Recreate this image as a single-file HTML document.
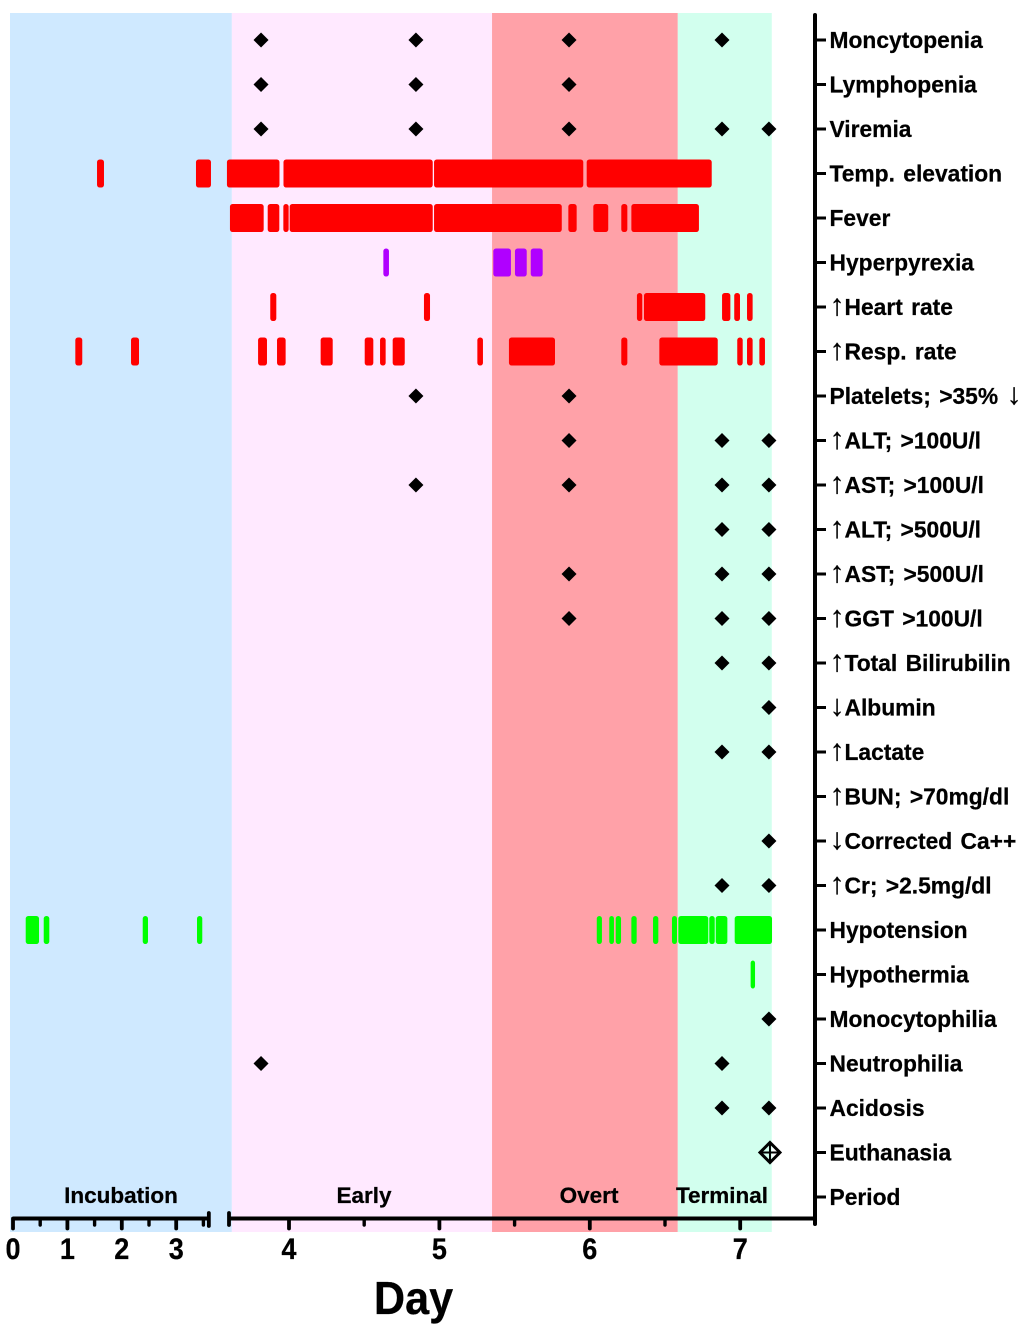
<!DOCTYPE html>
<html lang="en">
<head>
<meta charset="utf-8">
<title>Clinical signs timeline by day</title>
<style>
html,body{margin:0;padding:0;background:#fff;}
svg{display:block;}
text{font-family:"Liberation Sans",sans-serif;font-weight:bold;fill:#000;stroke:#000;stroke-width:0.25px;}
tspan.arrow{font-weight:normal;font-size:30px;}
</style>
</head>
<body>
<svg id="chart" xmlns="http://www.w3.org/2000/svg" width="1024" height="1337" viewBox="0 0 1024 1337"></svg>
<script>
// ---- Categories ----
const rowLabels = ["Moncytopenia","Lymphopenia","Viremia","Temp. elevation","Fever","Hyperpyrexia","↑Heart rate","↑Resp. rate","Platelets; >35% ↓","↑ALT; >100U/l","↑AST; >100U/l","↑ALT; >500U/l","↑AST; >500U/l","↑GGT >100U/l","↑Total Bilirubilin","↓Albumin","↑Lactate","↑BUN; >70mg/dl","↓Corrected Ca++","↑Cr; >2.5mg/dl","Hypotension","Hypothermia","Monocytophilia","Neutrophilia","Acidosis","Euthanasia","Period"];
const periodNames = ["Incubation","Early","Overt","Terminal"];
const periodEdges = [-0.055,3.62,5.35,6.585,7.21];
const periodColors = ["#cfe9ff","#ffe9ff","#ffa1a8","#d2ffee"];
const periodLabelDays = [1.985,4.499,5.995,6.879];
const majorTicks = [0,1,2,3,4,5,6,7];
const minorTicks = [0.5,1.5,2.5,3.5,4.5,5.5,6.5];

// ---- Continuous monitoring episodes, [start day, end day] ----
const tempElevation = [[1.585,1.632],[3.404,3.599],[3.602,3.922],[3.978,4.941],[4.979,5.942],[5.994,6.796]];
const fever = [[3.622,3.817],[3.873,3.921],[3.977,3.983],[4.019,4.941],[4.979,5.799],[5.872,5.898],[6.038,6.108],[6.224,6.235],[6.291,6.711]];
const hyperpyrexia = [[4.642,4.650],[5.373,5.461],[5.517,5.566],[5.622,5.672]];
const heartRate = [[3.890,3.901],[4.912,4.923],[6.328,6.334],[6.375,6.753],[6.894,6.920],[6.975,6.984],[7.060,7.068]];
const respRate = [[1.186,1.233],[2.210,2.276],[3.809,3.839],[3.935,3.963],[4.225,4.276],[4.518,4.546],[4.620,4.628],[4.704,4.755],[5.267,5.275],[5.477,5.754],[6.224,6.235],[6.477,6.836],[6.995,7.002],[7.060,7.068],[7.142,7.150]];
const hypotension = [[0.274,0.438],[0.605,0.627],[2.425,2.441],[3.423,3.439],[6.061,6.066],[6.144,6.146],[6.187,6.193],[6.291,6.297],[6.435,6.441],[6.561,6.565],[6.603,6.773],[6.809,6.816],[6.852,6.900],[6.978,7.197]];
const hypothermia = [[7.084,7.084]];

// ---- Discrete sample findings, days ----
const moncytopenia = [3.814,4.844,5.862,6.879];
const lymphopenia = [3.814,4.844,5.862];
const viremia = [3.814,4.844,5.862,6.879,7.191];
const platelets = [4.844,5.862];
const alt100 = [5.862,6.879,7.191];
const ast100 = [4.844,5.862,6.879,7.191];
const alt500 = [6.879,7.191];
const ast500 = [5.862,6.879,7.191];
const ggt100 = [5.862,6.879,7.191];
const bilirubin = [6.879,7.191];
const albumin = [7.191];
const lactate = [6.879,7.191];
const bun70 = [];
const calcium = [7.191];
const creatinine = [6.879,7.191];
const monocytophilia = [7.191];
const neutrophilia = [3.814,6.879];
const acidosis = [6.879,7.191];
const euthanasia = [7.198];

// ---- Axis functions ----
const AXIS_BREAK = 3.6;
function xScale(d){
  return d <= AXIS_BREAK ? 13 + 54.4 * d : 289 + 150.4 * (d - 4);
}
function yScale(rowIndex){
  return 40 + 44.5 * rowIndex;
}

const svg = document.getElementById('chart');
function make(tag, attrs, parent){
  const el = document.createElementNS('http://www.w3.org/2000/svg', tag);
  for (const k in attrs) el.setAttribute(k, attrs[k]);
  (parent || svg).appendChild(el);
  return el;
}
function slug(s){
  return s.toLowerCase().replace(/[^a-z0-9]+/g,'-').replace(/^-|-$/g,'');
}

// Period background bands
periodNames.forEach(function(name, i){
  const x0 = xScale(periodEdges[i]);
  const x1 = xScale(periodEdges[i+1]);
  const el = make('rect', {x:x0, y:13, width:x1-x0, height:1219, fill:periodColors[i]});
  
  
});

// Episode bars
const BAR_PAD = 2.2;
function drawBars(rowName, episodes, color){
  const row = rowLabels.findIndex(function(l){ return l.indexOf(rowName) >= 0; });
  episodes.forEach(function(ep){
    const x0 = xScale(ep[0]) - BAR_PAD;
    const x1 = xScale(ep[1]) + BAR_PAD;
    const el = make('rect', {x:x0, y:yScale(row)-14, width:x1-x0, height:28, rx:2.6, ry:2.6, fill:color});
    
    
  });
}
drawBars('Temp. elevation', tempElevation, '#ff0000');
drawBars('Fever', fever, '#ff0000');
drawBars('Hyperpyrexia', hyperpyrexia, '#b000ff');
drawBars('Heart rate', heartRate, '#ff0000');
drawBars('Resp. rate', respRate, '#ff0000');
drawBars('Hypotension', hypotension, '#00ff00');
drawBars('Hypothermia', hypothermia, '#00ff00');

// Diamond findings
function drawDiamonds(rowName, days){
  const row = rowLabels.findIndex(function(l){ return l.indexOf(rowName) >= 0; });
  days.forEach(function(d){
    const cx = xScale(d), cy = yScale(row), r = 7.5;
    const el = make('polygon', {points:[cx,cy-r,cx+r,cy,cx,cy+r,cx-r,cy].join(' '), fill:'#000'});
    
    
  });
}
drawDiamonds('Moncytopenia', moncytopenia);
drawDiamonds('Lymphopenia', lymphopenia);
drawDiamonds('Viremia', viremia);
drawDiamonds('Platelets', platelets);
drawDiamonds('ALT; >100', alt100);
drawDiamonds('AST; >100', ast100);
drawDiamonds('ALT; >500', alt500);
drawDiamonds('AST; >500', ast500);
drawDiamonds('GGT', ggt100);
drawDiamonds('Bilirubilin', bilirubin);
drawDiamonds('Albumin', albumin);
drawDiamonds('Lactate', lactate);
drawDiamonds('BUN', bun70);
drawDiamonds('Corrected Ca', calcium);
drawDiamonds('Cr;', creatinine);
drawDiamonds('Monocytophilia', monocytophilia);
drawDiamonds('Neutrophilia', neutrophilia);
drawDiamonds('Acidosis', acidosis);

// Euthanasia open crossed diamond
euthanasia.forEach(function(d){
  const cx = xScale(d), cy = yScale(rowLabels.indexOf('Euthanasia')), r = 10;
  const g = make('g', {fill:'none', stroke:'#000'});
  
  
  make('polygon', {points:[cx,cy-r,cx+r,cy,cx,cy+r,cx-r,cy].join(' '), 'stroke-width':3}, g);
  make('line', {x1:cx-r, y1:cy, x2:cx+r, y2:cy, 'stroke-width':2}, g);
  make('line', {x1:cx, y1:cy-r, x2:cx, y2:cy+r, 'stroke-width':2}, g);
});

// Period names
periodNames.forEach(function(name, i){
  const el = make('text', {x:xScale(periodLabelDays[i]), y:1203, 'text-anchor':'middle', 'font-size':22.5});
  el.textContent = name;
  
  
});

// Right-hand y axis
const yAxisLine = make('line', {x1:815, y1:15, x2:815, y2:1224, stroke:'#000', 'stroke-width':4, 'stroke-linecap':'round'});


rowLabels.forEach(function(label, i){
  const y = yScale(i);
  const tick = make('line', {x1:815, y1:y, x2:826, y2:y, stroke:'#000', 'stroke-width':3});
  
  
  const t = make('text', {x:829.5, y:y+8.2, 'font-size':22.8, 'word-spacing':2});
  label.split(/([↑↓])/).forEach(function(part){
    if (!part) return;
    const span = make('tspan', {}, t);
    span.textContent = part;
    if (part === '↑' || part === '↓') span.setAttribute('class', 'arrow');
  });
  
  
});

// X axis, two segments with a break
const xAxisLeft = make('line', {x1:xScale(0), y1:1218.5, x2:xScale(AXIS_BREAK), y2:1218.5, stroke:'#000', 'stroke-width':4});


const xAxisRight = make('line', {x1:229, y1:1218.5, x2:816, y2:1218.5, stroke:'#000', 'stroke-width':4});


const breakLeft = make('line', {x1:xScale(AXIS_BREAK), y1:1213, x2:xScale(AXIS_BREAK), y2:1226, stroke:'#000', 'stroke-width':3.8, 'stroke-linecap':'round'});


const breakRight = make('line', {x1:229, y1:1213, x2:229, y2:1225, stroke:'#000', 'stroke-width':3.8, 'stroke-linecap':'round'});



minorTicks.forEach(function(d){
  const x = xScale(d);
  const tick = make('line', {x1:x, y1:1218.5, x2:x, y2:1225, stroke:'#000', 'stroke-width':3.4, 'stroke-linecap':'round'});
  
  
});
majorTicks.forEach(function(d){
  const x = xScale(d);
  const tick = make('line', {x1:x, y1:1218.5, x2:x, y2:1228.5, stroke:'#000', 'stroke-width':3.8, 'stroke-linecap':'round'});
  
  
  const t = make('text', {x:0, y:0, 'text-anchor':'middle', 'font-size':30, transform:'translate(' + x + ' 1259) scale(0.9 1)'});
  t.textContent = String(d);
  
  
});

const xTitle = make('text', {x:0, y:0, 'text-anchor':'middle', 'font-size':46, transform:'translate(413.5 1314) scale(0.94 1)'});
xTitle.textContent = 'Day';


</script>
</body>
</html>
